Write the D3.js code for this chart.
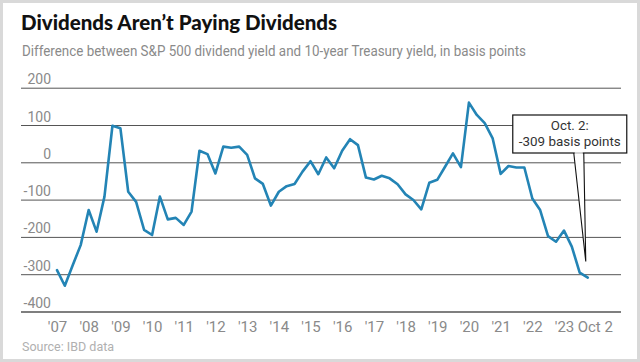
<!DOCTYPE html>
<html>
<head>
<meta charset="utf-8">
<script src="https://cdn.jsdelivr.net/npm/d3@7"></script>
<style>
  html, body { margin: 0; padding: 0; background: #fff; }
  svg { display: block; }
</style>
</head>
<body>
<script>
'use strict';

// Spread (basis points), quarterly, Q1 2007 .. Oct 2 2023
var spreadValues = [
    -289, -331, -276, -222, -128, -186, -92, 98, 91, -79,
    -106, -181, -195, -92, -153, -149, -168, -132, 31, 22,
    -30, 42, 39, 42, 20, -43, -58, -116, -79, -64,
    -58, -25, 3, -32, 13, -16, 31, 62, 46, -41,
    -46, -36, -43, -59, -86, -101, -126, -55, -47, -12,
    24, -13, 160, 127, 105, 64, -31, -10, -14, -14,
    -97, -128, -198, -213, -183, -226, -296, -309
];
var yTicks = [200, 100, 0, -100, -200, -300, -400];
var yearLabels = ["'07", "'08", "'09", "'10", "'11", "'12", "'13", "'14", "'15",
    "'16", "'17", "'18", "'19", "'20", "'21", "'22", "'23"];
var lastLabel = 'Oct 2';

var width = 640;
var height = 362;

// quarterly dates, last point is Oct. 2
var dates = d3.timeMonth.range(new Date(2007, 0, 1), new Date(2023, 10, 1), 3);
dates[dates.length - 1] = new Date(2023, 9, 2);
var points = dates.map(function(d, i) {
    return {date: d, value: spreadValues[i]};
});
var yearDates = yearLabels.map(function(l, i) {
    return new Date(2007 + i, 0, 1);
});
var lastDate = dates[dates.length - 1];

var x = d3.scaleTime()
        .domain([new Date(2007, 0, 1), new Date(2023, 0, 1)])
        .range([57, 564]);
var y = d3.scaleLinear()
        .domain([-400, 200])
        .range([311.5, 87.7]);

var svg = d3.select('body').append('svg')
        .attr('width', width)
        .attr('height', height);

// frame
svg.append('rect')
        .attr('x', 1.5).attr('y', 1.5)
        .attr('width', width - 3).attr('height', height - 3)
        .attr('fill', '#fff')
        .attr('stroke', '#d9d9d9')
        .attr('stroke-width', 3);

// title + subtitle
svg.append('text')
        .attr('x', 21).attr('y', 30)
        .attr('font-family', 'Lato, sans-serif')
        .attr('font-weight', 900)
        .attr('font-size', 20.5)
        .attr('fill', '#111')
        .text('Dividends Aren\u2019t Paying Dividends');

svg.append('text')
        .attr('x', 22).attr('y', 56)
        .attr('font-family', 'Roboto, sans-serif')
        .attr('font-size', 14)
        .attr('fill', '#8a8a8a')
        .attr('textLength', 504)
        .attr('lengthAdjust', 'spacingAndGlyphs')
        .text('Difference between S&P 500 dividend yield and 10-year Treasury yield, in basis points');

// y axis: gridlines with labels sitting above them
var yAxis = d3.axisRight(y)
        .tickValues(yTicks)
        .tickSize(600)
        .tickFormat(d3.format('d'));
var yG = svg.append('g')
        .attr('transform', 'translate(21,0)')
        .call(yAxis);
yG.select('.domain').remove();
yG.selectAll('.tick line')
        .attr('stroke', '#555')
        .attr('stroke-width', function(d) { return d === -400 ? 1.6 : 1; });
yG.selectAll('.tick text')
        .attr('x', 30)
        .attr('dy', -4)
        .attr('text-anchor', 'end')
        .attr('font-family', 'Roboto, sans-serif')
        .attr('font-size', 14)
        .attr('fill', '#8a8a8a')
        .text(function(d) { return d === 0 ? '0' : d3.format('d')(d).replace('\u2212', '-'); });

// x axis labels
var xAxis = d3.axisBottom(x)
        .tickValues(yearDates.concat([lastDate]))
        .tickSize(0)
        .tickPadding(0)
        .tickFormat(function(d, i) { return i < yearLabels.length ? yearLabels[i] : lastLabel; });
var xG = svg.append('g')
        .attr('transform', 'translate(0,311.5)')
        .call(xAxis);
xG.select('.domain').remove();
xG.selectAll('.tick text')
        .attr('y', 20)
        .attr('dy', 0)
        .attr('dx', function(d) { return +d === +lastDate ? 7 : 0; })
        .attr('font-family', 'Roboto, sans-serif')
        .attr('font-size', 15)
        .attr('fill', '#8a8a8a');

// the line
var line = d3.line()
        .x(function(d) { return x(d.date); })
        .y(function(d) { return y(d.value); });
svg.append('path')
        .datum(points)
        .attr('d', line)
        .attr('fill', 'none')
        .attr('stroke', '#2384b5')
        .attr('stroke-width', 2.6)
        .attr('stroke-linejoin', 'round')
        .attr('stroke-linecap', 'round');

// callout
var lx = x(lastDate);
var ly = y(spreadValues[spreadValues.length - 1]);
var boxL = lx - 75;
var boxR = lx + 39;
var boxT = 115;
var boxB = 153;
var callout = svg.append('g');
callout.append('path')
        .attr('d', 'M' + (lx - 14) + ',' + boxB + 'L' + (lx - 2) + ',' + (ly - 16) +
                'L' + (lx - 4) + ',' + boxB)
        .attr('fill', '#fff')
        .attr('stroke', '#111')
        .attr('stroke-width', 1.1);
callout.append('rect')
        .attr('x', boxL).attr('y', boxT)
        .attr('width', boxR - boxL).attr('height', boxB - boxT)
        .attr('fill', '#fff')
        .attr('stroke', '#111')
        .attr('stroke-width', 1.2);
// cover the wedge's base
callout.append('line')
        .attr('x1', lx - 13).attr('x2', lx - 5)
        .attr('y1', boxB).attr('y2', boxB)
        .attr('stroke', '#fff')
        .attr('stroke-width', 1.4);
callout.append('text')
        .attr('x', (boxL + boxR) / 2).attr('y', 130)
        .attr('text-anchor', 'middle')
        .attr('font-family', 'Roboto, sans-serif')
        .attr('font-size', 13.5)
        .attr('fill', '#333')
        .attr('textLength', 38)
        .attr('lengthAdjust', 'spacingAndGlyphs')
        .text('Oct. 2:');
callout.append('text')
        .attr('x', (boxL + boxR) / 2).attr('y', 145.5)
        .attr('text-anchor', 'middle')
        .attr('font-family', 'Roboto, sans-serif')
        .attr('font-size', 13.5)
        .attr('fill', '#333')
        .attr('textLength', 102)
        .attr('lengthAdjust', 'spacingAndGlyphs')
        .text('-309 basis points');

// source
svg.append('text')
        .attr('x', 22).attr('y', 351)
        .attr('font-family', 'Roboto, sans-serif')
        .attr('font-size', 12.5)
        .attr('fill', '#b0b0b0')
        .text('Source: IBD data');
</script>
</body>
</html>
